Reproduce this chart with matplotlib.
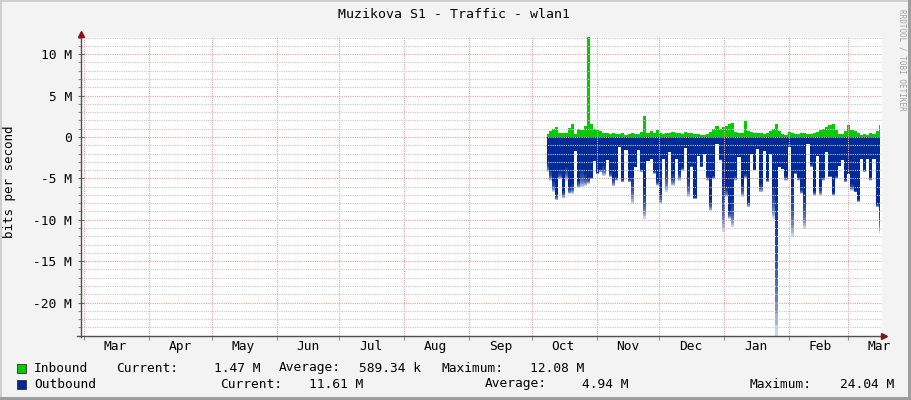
import matplotlib
matplotlib.use('Agg')
from matplotlib import pyplot as plt
import matplotlib.dates as mdates
from matplotlib.patches import Rectangle
from matplotlib.ticker import MultipleLocator, FuncFormatter
import numpy as np
import pandas as pd

plt.rcParams['font.family'] = ['DejaVu Sans Mono', 'DejaVu Sans']
plt.rcParams['axes.unicode_minus'] = False

title = 'Muzikova S1 - Traffic - wlan1'
ylabel = 'bits per second'
watermark = 'RRDTOOL / TOBI OETIKER'

# samples every 36 h, starting Oct 8
sample_start = '2022-10-08 12:00'
sample_step = '36h'

# Mbit/s
inbound = [0.36, 0.68, 1.00, 1.24, 0.48, 0.48, 0.52, 1.08, 1.57, 0.36,
           0.96, 0.84, 1.29, 12.08, 1.57, 0.96, 0.84, 0.76, 0.48, 0.48,
           0.40, 0.48, 0.36, 0.36, 0.48, 0.28, 0.40, 0.48, 0.36, 0.32,
           0.56, 2.57, 0.52, 0.68, 0.48, 0.84, 0.48, 0.36, 0.52, 0.44,
           0.64, 0.44, 0.52, 0.40, 0.56, 0.48, 0.44, 0.40, 0.32, 0.24,
           0.24, 0.32, 0.56, 0.96, 1.37, 0.96, 1.16, 1.37, 1.57, 1.65,
           0.56, 0.48, 0.44, 1.97, 0.76, 0.56, 0.48, 0.44, 0.48, 0.36,
           0.48, 0.68, 0.96, 1.57, 0.68, 0.36, 0.28, 0.56, 0.44, 0.36,
           0.36, 0.44, 0.44, 0.36, 0.32, 0.44, 0.64, 0.84, 0.96, 1.24,
           1.41, 1.57, 0.84, 0.36, 0.40, 0.68, 1.49, 0.84, 0.68, 0.44,
           0.24, 0.36, 0.28, 0.52, 0.36, 0.76, 1.47]

outbound_avg = [3.05, 4.06, 5.26, 6.87, 4.26, 6.47, 3.65, 6.06, 5.66, 1.65,
                5.26, 3.94, 4.46, 4.86, 4.86, 2.85, 4.26, 3.86, 3.45, 2.77,
                4.26, 4.86, 4.86, 1.24, 5.06, 1.57, 5.06, 4.86, 3.65, 1.57,
                3.86, 6.27, 2.85, 2.65, 4.06, 5.26, 6.67, 2.65, 3.65, 1.85,
                4.46, 2.65, 4.26, 3.65, 1.37, 4.86, 3.45, 7.27, 2.25, 3.45,
                2.05, 4.66, 7.67, 4.66, 0.84, 2.65, 5.66, 6.06, 8.88, 7.67,
                4.66, 2.45, 5.66, 4.46, 7.67, 2.05, 3.86, 1.45, 5.66, 1.65,
                5.06, 2.05, 6.06, 7.67, 3.65, 3.86, 4.66, 1.24, 6.06, 4.26,
                4.86, 6.27, 6.87, 0.84, 3.25, 6.47, 2.25, 6.06, 4.86, 1.85,
                4.66, 6.67, 4.66, 3.45, 2.77, 5.06, 4.46, 5.66, 6.47, 7.47,
                2.65, 3.86, 2.65, 4.86, 2.65, 8.07, 8.50]

outbound_max = [4.26, 5.26, 6.67, 7.67, 5.06, 7.39, 5.26, 6.87, 6.87, 1.65,
                6.14, 6.06, 5.86, 5.66, 5.06, 2.85, 4.46, 4.26, 4.66, 2.77,
                4.86, 5.98, 5.26, 1.24, 5.46, 1.57, 5.46, 8.07, 3.65, 1.57,
                4.26, 9.88, 2.85, 2.65, 4.46, 5.86, 8.07, 2.65, 6.67, 1.85,
                5.86, 2.65, 5.26, 4.06, 1.37, 7.27, 3.65, 7.47, 2.25, 3.65,
                2.05, 5.26, 8.88, 5.06, 0.84, 2.85, 11.49, 7.27, 9.88, 10.88,
                5.26, 2.45, 7.27, 4.94, 8.47, 2.05, 4.06, 1.45, 6.67, 1.65,
                5.46, 2.05, 9.88, 24.04, 3.65, 3.86, 5.26, 1.24, 12.09, 4.46,
                5.26, 6.87, 11.08, 0.84, 3.65, 7.07, 2.25, 7.07, 5.26, 1.85,
                4.86, 7.07, 5.06, 3.45, 2.77, 5.46, 4.46, 6.47, 6.67, 7.87,
                2.65, 4.26, 2.65, 5.26, 2.65, 8.47, 11.61]

legend_names = ['Inbound', 'Outbound']
legend_colors = ['#00CC00', '#002A97']
legend_current = ['1.47 M', '11.61 M']
legend_average = ['589.34 k', '4.94 M']
legend_maximum = ['12.08 M', '24.04 M']

FS = 9.3
W, H = 911, 400
fig = plt.figure(figsize=(W / 100, H / 100), dpi=100, facecolor='#F3F3F3')


def fx(px):
    return px / W


def fy(py):
    return 1 - py / H


ax = fig.add_axes([fx(81), fy(336), fx(800.7), 299 / H])
ax.set_facecolor('white')

x = pd.date_range(sample_start, periods=len(inbound), freq=sample_step)
inb = np.array(inbound) * 1e6
oavg = np.array(outbound_avg) * 1e6
omax = np.array(outbound_max) * 1e6

# inbound, positive side
ax.fill_between(x, 0, inb, color=legend_colors[0], lw=0, step='mid')

# outbound, negative side: solid average, fading out towards the peak
n_layers = 12
for j in range(1, n_layers + 1):
    ax.fill_between(x, -(oavg + (omax - oavg) * j / n_layers), -oavg,
                    color=legend_colors[1], alpha=0.2, lw=0, step='mid')
ax.fill_between(x, -oavg, 0, color=legend_colors[1], lw=0, step='mid')

ax.set_xlim(pd.Timestamp('2022-02-27 13:40'), pd.Timestamp('2023-03-17 05:00'))
ax.set_ylim(-24.04e6, 12.08e6)

# grid
ax.set_axisbelow(False)
ax.yaxis.set_major_locator(MultipleLocator(5e6))
ax.yaxis.set_minor_locator(MultipleLocator(1e6))
ax.yaxis.set_major_formatter(FuncFormatter(
    lambda v, p: '0' if abs(v) < 1 else '%g M' % (v / 1e6)))
ax.xaxis.set_major_locator(mdates.MonthLocator())
ax.xaxis.set_major_formatter(plt.NullFormatter())
ax.xaxis.set_minor_locator(mdates.MonthLocator(bymonthday=16))
ax.xaxis.set_minor_formatter(mdates.DateFormatter('%b'))

ax.grid(which='minor', axis='y', color='#C8C8C8', lw=0.8, ls=(0, (1, 1)))
ax.grid(which='major', axis='y', color='#F0A0A0', lw=0.8, ls=(0, (1, 1)))
ax.grid(which='major', axis='x', color='#F0A0A0', lw=0.8, ls=(0, (1, 1)))

for s in ax.spines.values():
    s.set_visible(False)

ax.tick_params(axis='y', which='major', direction='inout', length=5,
               width=0.8, color='#707070', labelsize=FS, pad=4)
ax.tick_params(axis='y', which='minor', direction='out', length=2,
               width=0.8, color='#909090')
ax.tick_params(axis='x', which='major', direction='out', length=3,
               width=0.8, color='#909090')
ax.tick_params(axis='x', which='minor', length=0, labelsize=FS, pad=3)

# axis lines with arrows
ax.plot([0, 0], [-0.005, 1.0], transform=ax.transAxes, color='#505050',
        lw=1, clip_on=False, zorder=5)
ax.plot([-0.005, 1.002], [0, 0], transform=ax.transAxes, color='#505050',
        lw=1, clip_on=False, zorder=5)
ax.plot([0], [1.01], marker='^', ms=4, color='#8B1010',
        transform=ax.transAxes, clip_on=False, zorder=6)
ax.plot([1.003], [0], marker='>', ms=4, color='#8B1010',
        transform=ax.transAxes, clip_on=False, zorder=6)

# texts
fig.text(fx(454.5), fy(14), title, ha='center', va='center', fontsize=9.5)
fig.text(fx(10), fy(182), ylabel, ha='center', va='center', rotation=90,
         fontsize=9)
fig.text(fx(902), fy(60), watermark, ha='center', va='center',
         rotation=270, fontsize=5.5, color='#A0A0A0')

# legend
rows = [368, 384]
cur_x = [(116, 260), (220, 363)]
avg_x = [(279, 421), (485, 628)]
max_x = [(441, 584), (750, 894)]
for i in range(2):
    y = rows[i]
    fig.add_artist(Rectangle((fx(17), fy(y + 4.5)), fx(9), 9 / H,
                             transform=fig.transFigure,
                             facecolor=legend_colors[i],
                             edgecolor='#303030', lw=0.6))
    fig.text(fx(34), fy(y), legend_names[i], va='center', fontsize=FS)
    for (lx, rx), lab, val in [(cur_x[i], 'Current:', legend_current[i]),
                               (avg_x[i], 'Average:', legend_average[i]),
                               (max_x[i], 'Maximum:', legend_maximum[i])]:
        fig.text(fx(lx), fy(y), lab, va='center', fontsize=FS)
        fig.text(fx(rx), fy(y), val, va='center', ha='right', fontsize=FS)

# frame shading
fig.add_artist(Rectangle((0, fy(2)), 1, 2 / H, transform=fig.transFigure,
                         color='#CFCFCF', lw=0))
fig.add_artist(Rectangle((0, 0), fx(2), 1, transform=fig.transFigure,
                         color='#CFCFCF', lw=0))
fig.add_artist(Rectangle((fx(908), 0), fx(3), 1, transform=fig.transFigure,
                         color='#9E9E9E', lw=0))
fig.add_artist(Rectangle((0, 0), 1, 3 / H, transform=fig.transFigure,
                         color='#9E9E9E', lw=0))

fig.savefig('out.png', dpi=100, facecolor=fig.get_facecolor())
